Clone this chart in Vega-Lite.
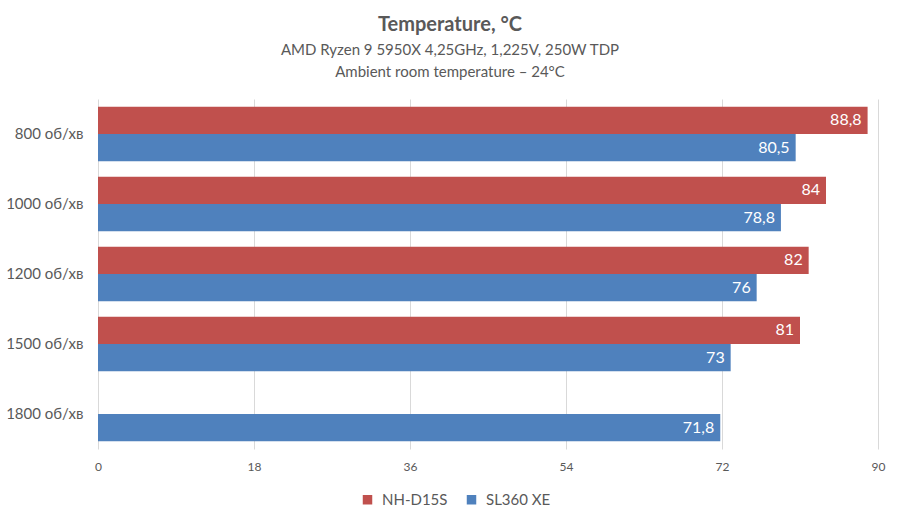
{
  "$schema": "https://vega.github.io/schema/vega-lite/v6.json",
  "width": 780,
  "height": 350,
  "autosize": {"type": "pad"},
  "padding": {"left": 5, "top": 15, "right": 14, "bottom": 5},
  "background": "white",
  "title": {
    "text": "Temperature, °C",
    "subtitle": ["AMD Ryzen 9 5950X 4,25GHz, 1,225V, 250W TDP", "Ambient room temperature – 24°C"],
    "font": "Lato",
    "fontSize": 20,
    "fontWeight": "bold",
    "color": "#595959",
    "subtitleFont": "Lato",
    "subtitleFontSize": 15,
    "subtitleColor": "#595959",
    "subtitleLineHeight": 22,
    "subtitlePadding": 8,
    "anchor": "middle",
    "frame": "group",
    "dx": -38,
    "offset": 19
  },
  "data": {
    "values": [
      {"rpm": "800 об/хв", "cooler": "NH-D15S", "temp": 88.8, "label": "88,8"},
      {"rpm": "800 об/хв", "cooler": "SL360 XE", "temp": 80.5, "label": "80,5"},
      {"rpm": "1000 об/хв", "cooler": "NH-D15S", "temp": 84, "label": "84"},
      {"rpm": "1000 об/хв", "cooler": "SL360 XE", "temp": 78.8, "label": "78,8"},
      {"rpm": "1200 об/хв", "cooler": "NH-D15S", "temp": 82, "label": "82"},
      {"rpm": "1200 об/хв", "cooler": "SL360 XE", "temp": 76, "label": "76"},
      {"rpm": "1500 об/хв", "cooler": "NH-D15S", "temp": 81, "label": "81"},
      {"rpm": "1500 об/хв", "cooler": "SL360 XE", "temp": 73, "label": "73"},
      {"rpm": "1800 об/хв", "cooler": "SL360 XE", "temp": 71.8, "label": "71,8"}
    ]
  },
  "encoding": {
    "y": {
      "field": "rpm",
      "type": "nominal",
      "sort": ["800 об/хв", "1000 об/хв", "1200 об/хв", "1500 об/хв", "1800 об/хв"],
      "scale": {"paddingInner": 0.22, "paddingOuter": 0.11},
      "axis": {
        "title": null,
        "domain": false,
        "ticks": false,
        "labelFont": "Lato",
        "labelFontSize": 15,
        "labelColor": "#595959",
        "labelPadding": 15,
        "minExtent": 92,
        "maxExtent": 92
      }
    },
    "yOffset": {"field": "cooler", "type": "nominal", "sort": ["NH-D15S", "SL360 XE"]},
    "x": {
      "field": "temp",
      "type": "quantitative",
      "scale": {"domain": [0, 90], "nice": false},
      "axis": {
        "title": null,
        "values": [0, 18, 36, 54, 72, 90],
        "domain": false,
        "ticks": false,
        "grid": true,
        "gridColor": "#d9d9d9",
        "gridWidth": 1,
        "labelFlush": false,
        "labelFont": "Lato",
        "labelFontSize": 12,
        "labelColor": "#595959",
        "labelPadding": 12
      }
    }
  },
  "layer": [
    {
      "mark": {"type": "bar"},
      "encoding": {
        "color": {
          "field": "cooler",
          "type": "nominal",
          "scale": {"domain": ["NH-D15S", "SL360 XE"], "range": ["#C0504D", "#4F81BD"]},
          "legend": {
            "title": null,
            "orient": "none",
            "direction": "horizontal",
            "legendX": 262,
            "legendY": 393,
            "symbolType": "square",
            "symbolSize": 90,
            "symbolStrokeWidth": 0,
            "labelFont": "Lato",
            "labelFontSize": 15,
            "labelColor": "#595959",
            "columnPadding": 16,
            "labelOffset": 7
          }
        }
      }
    },
    {
      "mark": {"type": "text", "align": "right", "baseline": "middle", "dx": -6, "color": "white", "font": "Lato", "fontSize": 16},
      "encoding": {"text": {"field": "label"}}
    }
  ],
  "config": {"view": {"stroke": null}}
}
